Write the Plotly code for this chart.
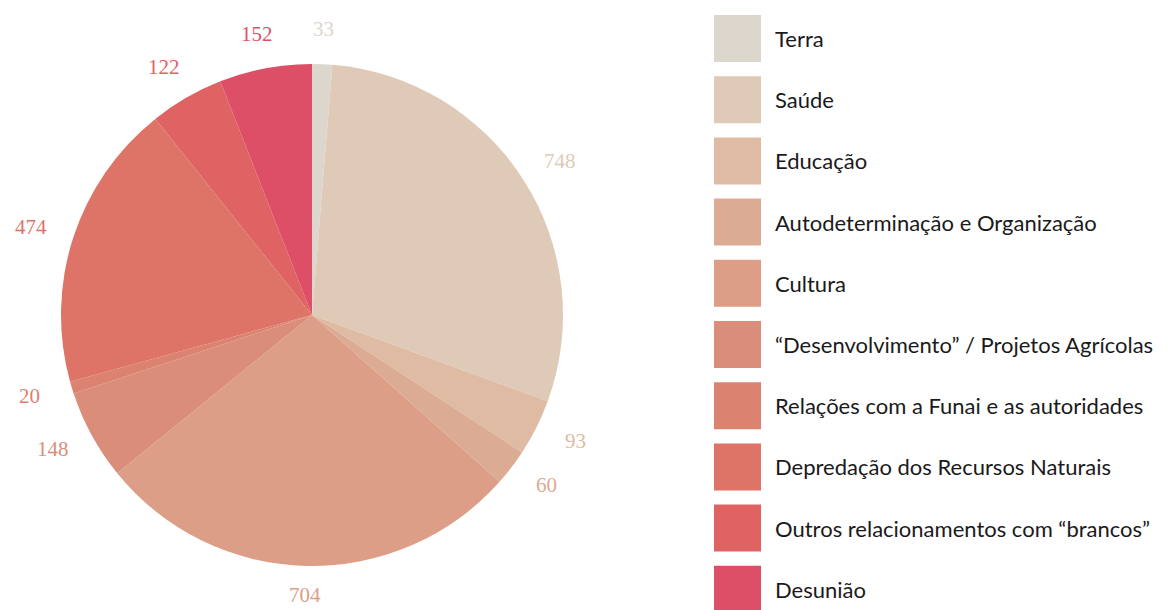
import math
import plotly.graph_objects as go

categories = [
    "Terra", "Saúde", "Educação", "Autodeterminação e Organização", "Cultura",
    "“Desenvolvimento” / Projetos Agrícolas", "Relações com a Funai e as autoridades",
    "Depredação dos Recursos Naturais", "Outros relacionamentos com “brancos”", "Desunião",
]
values = [33, 748, 93, 60, 704, 148, 20, 474, 122, 152]
colors = [
    "#DDD6CC", "#DFCAB8", "#DFBBA3", "#DBAC93", "#DC9E86",
    "#DA8E7A", "#DB8270", "#DE7468", "#DE6362", "#DD4F67",
]

W, H = 1169, 610
OFF = 8  # page body margin in the browser
cx, cy, R = 312 - OFF, 315 - OFF, 251

fig = go.Figure(go.Pie(
    labels=categories, values=values, sort=False, direction="clockwise", rotation=0,
    marker=dict(colors=colors, line=dict(width=0)), textinfo="none", hoverinfo="label+value",
    showlegend=False,
    domain=dict(x=[(cx - R) / W, (cx + R) / W], y=[1 - (cy + R) / H, 1 - (cy - R) / H]),
))

annotations = []
total = sum(values)
cum = 0
rx_lab, ry_top, ry_bot = 295, 286, 280
for v, c in zip(values, colors):
    mid = (cum + v / 2) / total * 2 * math.pi
    cum += v
    ry = ry_top if math.cos(mid) > 0 else ry_bot
    px = cx + rx_lab * math.sin(mid)
    py = cy - ry * math.cos(mid)
    annotations.append(dict(
        x=px / W, y=1 - py / H, xref="paper", yref="paper", text=str(v), showarrow=False,
        font=dict(family="Liberation Serif", size=21, color=c), xanchor="center", yanchor="middle",
        borderpad=0,
    ))

shapes = []
sw_x0, sw_size, row0, row_step = 714 - OFF, 47, 15 - OFF, 61.2
for i, (lab, c) in enumerate(zip(categories, colors)):
    y0 = row0 + i * row_step
    shapes.append(dict(
        type="rect", xref="paper", yref="paper",
        x0=sw_x0 / W, x1=(sw_x0 + sw_size) / W,
        y0=1 - (y0 + sw_size) / H, y1=1 - y0 / H,
        fillcolor=c, line=dict(width=0),
    ))
    annotations.append(dict(
        x=(773 - OFF) / W, y=1 - (y0 + sw_size / 2) / H, xref="paper", yref="paper", text=lab,
        showarrow=False, xanchor="left", yanchor="middle",
        font=dict(family="Lato", size=22, color="#1a1a1a"),
    ))

fig.update_layout(
    width=W, height=H, margin=dict(l=0, r=0, t=0, b=0),
    paper_bgcolor="white", plot_bgcolor="white",
    annotations=annotations, shapes=shapes,
)
fig.write_html("out.html")
